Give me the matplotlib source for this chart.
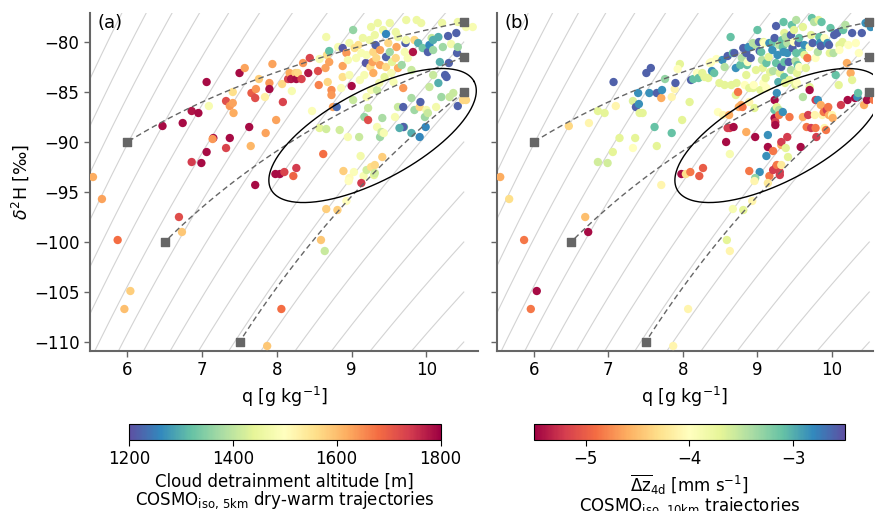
import numpy as np
import matplotlib
matplotlib.use("Agg")
import matplotlib.pyplot as plt
from matplotlib.colors import Normalize

# ---------------- data ----------------
# panel (a): q [g/kg], delta2H [permil], cloud detrainment altitude [m]
a_q = [5.54,6.47,6.74,6.86,6.95,7.06,7.09,7.32,7.37,7.41,7.42,7.15,7.14,7.37,7.32,7.06,6.86,6.99,7.41,7.50,
       7.57,7.63,7.65,7.66,7.71,7.72,7.76,7.84,7.90,7.90,7.94,8.08,8.07,7.99,7.85,8.15,8.17,8.19,8.20,8.25,
       8.26,8.28,8.33,8.35,8.42,8.44,8.47,8.56,8.55,8.57,8.62,8.66,8.67,8.70,8.68,8.70,8.65,8.57,8.66,8.73,
       8.73,8.75,8.80,8.82,8.84,8.86,8.88,8.88,8.88,8.93,8.95,8.95,8.97,8.97,9.00,9.02,9.02,9.04,9.06,9.09,
       9.10,9.11,9.13,9.15,9.17,9.17,9.19,9.20,9.20,9.22,9.22,9.24,9.25,9.26,9.26,9.28,9.29,9.29,9.31,9.32,
       9.33,9.34,9.34,9.35,9.37,9.38,9.38,9.38,9.40,9.41,9.42,9.43,9.44,9.46,9.46,9.46,9.49,9.51,9.51,9.53,
       9.54,9.58,9.56,9.59,9.59,9.60,9.62,9.62,9.62,9.67,9.69,9.69,9.70,9.71,9.72,9.73,9.73,9.75,9.80,9.80,
       9.80,9.82,9.84,9.87,9.84,9.89,9.91,9.92,9.93,9.95,9.98,9.99,10.00,10.02,10.02,10.04,10.04,10.07,10.09,10.09,
       10.09,10.13,10.16,10.16,10.18,10.20,10.21,10.22,10.25,10.27,10.29,10.30,10.31,10.33,10.36,10.40,10.41,10.42,10.42,10.49,
       10.53,10.53,10.62,10.42,9.69,9.64,9.91,
       5.66,5.87,6.04,5.96,6.69,6.73,7.71,7.98,8.04,8.10,8.26,8.22,8.89,9.03,8.97,8.96,9.12,9.16,9.20,9.26,
       9.31,9.30,9.31,9.13,9.41,8.93,8.66,8.81,8.59,8.64,8.06,7.87]
a_d = [-93.5,-88.4,-88.1,-86.9,-87.1,-84.0,-86.4,-85.9,-86.4,-86.1,-87.1,-89.6,-89.7,-89.6,-90.6,-91.0,-92.0,-92.1,-85.0,-83.1,
       -82.6,-88.5,-90.4,-85.1,-85.6,-84.7,-83.7,-85.5,-84.1,-84.7,-82.2,-86.0,-84.2,-87.8,-89.1,-83.7,-83.1,-83.7,-84.9,-83.1,
       -83.7,-83.1,-83.7,-82.1,-83.1,-81.6,-86.9,-84.3,-82.9,-81.7,-91.2,-79.5,-81.3,-80.9,-84.0,-82.0,-82.6,-88.6,-88.7,-84.8,
       -85.3,-86.5,-86.5,-80.5,-88.8,-84.6,-80.6,-83.5,-82.4,-81.1,-81.8,-89.5,-80.1,-83.3,-84.4,-78.8,-85.8,-80.6,-81.6,-80.3,
       -89.5,-83.8,-81.1,-79.6,-83.3,-87.5,-82.1,-81.3,-85.5,-86.6,-87.8,-79.8,-82.5,-78.5,-84.8,-82.0,-81.0,-83.1,-79.3,-80.3,
       -81.6,-84.8,-88.5,-78.1,-84.1,-82.3,-80.8,-89.5,-89.0,-87.6,-78.8,-89.1,-83.5,-79.2,-81.5,-82.5,-80.1,-78.1,-81.0,-83.1,
       -82.0,-87.5,-84.0,-81.6,-79.0,-80.5,-79.5,-86.5,-82.6,-82.3,-86.5,-84.6,-88.5,-81.0,-80.1,-77.8,-79.8,-81.6,-85.6,-89.1,
       -82.8,-81.0,-86.8,-77.8,-79.8,-80.1,-86.5,-86.0,-78.1,-80.6,-87.5,-88.5,-86.8,-81.0,-87.1,-84.5,-80.3,-79.6,-79.8,-83.3,
       -80.8,-86.5,-79.5,-84.1,-82.0,-85.5,-78.1,-80.5,-83.3,-83.5,-79.4,-82.1,-85.5,-80.2,-85.1,-79.1,-81.1,-80.5,-86.4,-85.8,
       -85.8,-78.5,-78.5,-78.0,-88.5,-88.6,-89.5,
       -95.7,-99.8,-104.9,-106.7,-97.5,-99.0,-94.3,-93.2,-93.2,-93.0,-92.6,-93.4,-92.9,-93.0,-93.6,-93.9,-91.4,-93.4,-92.8,-92.5,
       -92.3,-93.3,-93.1,-94.1,-91.5,-95.9,-96.7,-96.8,-99.8,-100.9,-106.7,-110.4]
a_c = [1620,1790,1790,1780,1790,1790,1480,1720,1640,1630,1620,1790,1640,1790,1730,1790,1740,1790,1560,1790,
       1630,1790,1610,1700,1720,1640,1580,1530,1640,1790,1630,1730,1570,1630,1630,1730,1620,1780,1480,1580,
       1790,1570,1730,1640,1780,1730,1490,1660,1720,1480,1680,1470,1560,1320,1570,1630,1630,1440,1420,1650,
       1640,1630,1230,1480,1420,1490,1210,1560,1630,1640,1480,1480,1470,1480,1790,1360,1410,1560,1480,1560,
       1410,1480,1480,1460,1480,1360,1210,1480,1480,1410,1720,1460,1560,1460,1480,1630,1570,1620,1460,1220,
       1570,1410,1480,1460,1470,1630,1630,1370,1410,1380,1460,1480,1440,1260,1220,1570,1570,1460,1370,1480,
       1440,1480,1480,1570,1460,1630,1460,1410,1620,1370,1220,1640,1320,1480,1220,1460,1470,1480,1380,1300,
       1410,1780,1370,1460,1570,1300,1570,1220,1460,1330,1370,1260,1470,1220,1410,1410,1260,1410,1300,1410,
       1370,1470,1300,1300,1300,1370,1460,1370,1220,1220,1220,1220,1410,1470,1410,1220,1220,1370,1220,1570,
       1570,1480,1480,1460,1220,1300,1260,
       1630,1680,1580,1600,1720,1590,1790,1790,1790,1730,1740,1690,1580,1490,1510,1500,1470,1480,1420,1560,
       1570,1440,1420,1740,1580,1500,1580,1580,1590,1410,1680,1590]

# panel (b): q [g/kg], delta2H [permil], mean vertical velocity [mm/s]
b_q = [5.55,6.47,6.74,6.86,6.95,7.07,7.10,7.33,7.37,7.41,7.40,7.42,7.46,7.51,7.57,7.55,7.65,7.71,7.72,7.76,
       7.85,7.89,7.90,7.85,7.62,7.65,7.33,7.15,7.36,7.06,6.86,6.99,7.96,7.93,7.99,8.09,8.11,8.14,8.19,8.21,
       8.26,8.29,8.34,8.36,8.39,8.38,8.42,8.45,8.47,8.49,8.53,8.56,8.56,8.54,8.58,8.60,8.60,8.62,8.63,8.64,
       8.65,8.67,8.69,8.68,8.71,8.71,8.72,8.74,8.75,8.77,8.78,8.79,8.80,8.81,8.83,8.85,8.85,8.85,8.86,8.87,
       8.88,8.89,8.89,8.91,8.91,8.94,8.94,8.95,8.96,8.97,8.98,8.98,9.00,9.02,9.03,9.04,9.05,9.06,9.07,9.08,
       9.08,9.09,9.11,9.12,9.12,9.14,9.14,9.15,9.16,9.17,9.20,9.21,9.21,9.23,9.23,9.23,9.23,9.24,9.24,9.25,
       9.25,9.26,9.26,9.27,9.28,9.29,9.29,9.29,9.30,9.32,9.32,9.32,9.33,9.34,9.34,9.35,9.35,9.36,9.36,9.36,
       9.37,9.38,9.38,9.40,9.40,9.40,9.42,9.43,9.43,9.45,9.45,9.46,9.47,9.49,9.49,9.51,9.51,9.52,9.52,9.53,
       9.53,9.54,9.55,9.56,9.56,9.58,9.60,9.61,9.61,9.61,9.63,9.63,9.65,9.66,9.67,9.68,9.70,9.70,9.70,9.72,
       9.72,9.73,9.74,9.76,9.77,9.78,9.78,9.78,9.79,9.81,9.81,9.82,9.83,9.84,9.85,9.85,9.86,9.87,9.89,9.90,
       9.90,9.92,9.93,9.94,9.95,9.96,9.96,9.97,9.98,10.00,10.01,10.02,10.03,10.05,10.07,10.09,10.10,10.10,10.12,10.14,
       10.15,10.18,10.20,10.21,10.22,10.25,10.27,10.27,10.31,10.32,10.34,10.35,10.36,10.40,10.43,10.45,10.47,10.52,10.56,
       5.67,5.87,6.04,5.96,6.69,6.73,7.71,7.98,8.04,8.10,8.27,8.22,8.63,8.89,9.03,8.97,8.96,9.12,9.16,9.21,
       9.25,9.26,9.30,9.30,9.32,9.14,9.41,9.21,8.93,8.67,8.81,8.59,8.63,8.07,7.87]
b_d = [-93.5,-88.4,-88.1,-86.9,-87.1,-84.0,-86.4,-85.9,-86.5,-86.2,-85.1,-87.1,-87.1,-83.1,-82.6,-85.1,-85.1,-85.6,-84.8,-83.7,
       -85.5,-84.7,-84.1,-89.1,-88.5,-90.4,-90.6,-89.6,-89.6,-91.0,-92.0,-92.1,-82.2,-82.7,-87.8,-86.0,-83.8,-83.7,-83.1,-83.6,
       -83.1,-83.5,-83.6,-82.1,-82.9,-82.0,-83.1,-81.7,-87.0,-84.1,-81.8,-84.3,-82.5,-87.3,-90.0,-81.4,-88.6,-87.3,-88.6,-79.5,
       -84.3,-81.1,-81.1,-88.5,-82.6,-85.3,-84.1,-85.0,-86.5,-82.3,-86.3,-81.6,-86.5,-80.6,-84.3,-81.1,-89.0,-83.3,-82.3,-82.0,
       -80.5,-86.0,-84.6,-80.5,-81.6,-80.1,-84.6,-84.3,-86.6,-89.5,-80.3,-82.8,-78.8,-80.0,-80.9,-84.8,-81.0,-81.8,-82.6,-80.0,
       -84.1,-80.1,-83.6,-84.6,-82.1,-89.3,-90.5,-81.5,-80.1,-83.0,-80.8,-80.0,-82.9,-86.8,-85.8,-87.6,-79.6,-88.0,-88.3,-78.4,
       -82.1,-85.1,-86.5,-81.3,-84.0,-80.3,-86.8,-87.3,-83.1,-82.5,-90.3,-90.0,-79.8,-80.5,-87.0,-81.0,-78.0,-79.1,-83.5,-82.0,
       -84.1,-90.6,-79.5,-89.5,-81.1,-80.1,-82.0,-83.8,-87.5,-82.8,-79.3,-78.3,-80.6,-80.0,-78.8,-81.9,-84.3,-77.8,-81.1,-83.1,
       -84.1,-82.3,-80.1,-82.5,-79.6,-90.5,-81.0,-85.5,-87.5,-78.5,-81.3,-80.3,-82.6,-88.5,-81.6,-87.3,-84.5,-80.5,-84.8,-79.3,
       -88.6,-77.6,-80.1,-78.0,-87.3,-85.8,-81.6,-88.6,-89.5,-85.8,-81.0,-77.8,-79.5,-80.1,-86.3,-80.4,-78.0,-87.3,-87.0,-88.6,
       -79.6,-88.8,-86.8,-80.1,-86.5,-87.3,-80.3,-81.1,-78.6,-87.3,-87.6,-81.1,-79.3,-83.3,-79.1,-84.3,-80.3,-80.8,-86.3,-80.0,
       -78.8,-78.3,-82.1,-85.8,-80.3,-83.1,-83.8,-79.1,-85.6,-80.1,-85.5,-85.1,-81.1,-79.1,-86.3,-78.1,-85.8,-78.5,-85.8,
       -95.7,-99.8,-104.9,-106.7,-97.5,-99.0,-94.3,-93.2,-93.2,-93.0,-92.6,-93.4,-91.2,-92.9,-93.0,-93.6,-93.9,-91.4,-93.4,-92.8,
       -92.5,-92.3,-93.0,-93.3,-92.3,-94.1,-91.5,-90.9,-95.9,-96.7,-96.8,-99.8,-100.9,-106.7,-110.4]
b_c = [-4.6,-4.35,-4.1,-3.7,-3.7,-2.6,-4.1,-3.65,-2.6,-2.85,-2.85,-3.7,-3.7,-2.6,-2.6,-2.85,-2.6,-4.6,-2.85,-3.3,
       -4.1,-4.1,-2.6,-3.1,-3.1,-3.7,-4.0,-3.7,-3.7,-3.7,-3.6,-3.6,-3.7,-4.0,-3.7,-3.7,-2.6,-3.1,-4.0,-3.1,
       -3.7,-3.7,-3.7,-4.0,-2.85,-4.0,-3.1,-4.0,-4.0,-3.7,-2.85,-3.7,-3.45,-4.1,-5.45,-2.6,-5.2,-4.6,-5.2,-3.1,
       -3.7,-3.1,-2.6,-5.45,-2.85,-3.7,-3.7,-4.85,-4.6,-3.1,-4.6,-3.45,-4.85,-2.6,-4.0,-2.6,-4.6,-3.7,-3.1,-4.0,
       -2.85,-4.1,-3.7,-2.85,-2.6,-3.45,-3.7,-4.0,-3.7,-5.45,-3.45,-3.7,-3.1,-2.6,-2.6,-3.7,-3.1,-3.45,-3.7,-3.7,
       -4.0,-4.0,-3.7,-4.0,-3.1,-2.85,-5.45,-3.7,-2.85,-3.7,-2.85,-3.1,-3.45,-3.1,-5.45,-5.45,-2.6,-5.2,-5.45,-2.6,
       -3.1,-2.85,-3.7,-2.85,-3.0,-3.45,-3.45,-4.85,-3.7,-2.6,-4.6,-5.2,-3.1,-3.1,-2.85,-2.85,-3.1,-3.7,-3.1,-3.1,
       -3.7,-3.7,-3.45,-5.2,-2.85,-3.45,-2.6,-3.7,-4.85,-3.45,-2.6,-3.1,-2.6,-4.0,-3.7,-3.45,-3.7,-3.45,-3.1,-3.7,
       -4.0,-3.1,-2.6,-4.0,-3.1,-5.45,-3.1,-3.45,-4.6,-3.7,-3.7,-2.85,-3.7,-4.85,-4.85,-5.2,-3.7,-4.0,-5.45,-3.7,
       -5.2,-3.1,-2.6,-3.45,-4.1,-5.2,-4.0,-4.85,-5.2,-2.85,-3.45,-3.7,-3.1,-2.85,-4.6,-2.6,-3.1,-4.1,-4.85,-4.1,
       -4.0,-4.85,-5.2,-2.85,-4.85,-4.6,-2.6,-3.7,-3.1,-4.1,-4.6,-3.45,-2.6,-3.1,-2.6,-3.7,-3.7,-4.0,-5.2,-3.7,
       -3.1,-3.45,-4.6,-5.45,-4.0,-4.6,-3.7,-2.6,-5.45,-4.0,-2.85,-3.1,-4.0,-2.6,-4.6,-2.85,-5.45,-2.85,-4.85,
       -4.3,-4.85,-5.45,-4.85,-4.5,-5.45,-4.1,-5.45,-4.3,-4.85,-5.0,-5.0,-3.9,-4.85,-2.85,-3.3,-4.1,-2.85,-4.85,-5.2,
       -5.2,-4.85,-5.2,-5.2,-4.2,-4.2,-3.7,-4.85,-4.1,-3.9,-3.7,-3.7,-4.1,-4.1,-4.1]

# mixing end members
dry_q = [6.0, 6.5, 7.5]
dry_d = [-90.0, -100.0, -110.0]
moist_q = [10.5, 10.5, 10.5]
moist_d = [-78.0, -81.5, -85.0]

# background Rayleigh curves: delta at q=10.5 and exponent (alpha - 1)
ray_d_at_105 = list(range(-150, -20, 5))
ray_q_ref = 10.5
ray_exp = 0.096

# ellipse centre in data units
ell_center = (9.28, -89.35)

xticks = [6, 7, 8, 9, 10]
yticks = [-80, -85, -90, -95, -100, -105, -110]

# ---------------- figure ----------------
fig = plt.figure(figsize=(8.78, 5.11), dpi=100)
axA = fig.add_axes([0.1025, 0.3131, 0.4419, 0.6620])
axB = fig.add_axes([0.5655, 0.3131, 0.4288, 0.6620])

normA = Normalize(1200, 1800)
normB = Normalize(-5.5, -2.5)
spine_col = '#666666'

def decorate(ax, xmax, label, showy):
    ax.set_xlim(5.5, xmax)
    ax.set_ylim(-110.9, -77.07)
    # Rayleigh curves
    qq = np.linspace(5.5, 10.5, 200)
    for d0 in ray_d_at_105:
        dd = (d0 + 1000.0) * (qq / ray_q_ref) ** ray_exp - 1000.0
        ax.plot(qq, dd, color='#d3d3d3', lw=0.8, zorder=1)
    # mixing lines
    for q1, d1, q2, d2 in zip(dry_q, dry_d, moist_q, moist_d):
        f = np.linspace(0, 1, 200)
        qm = f * q1 + (1 - f) * q2
        dm = (f * q1 * d1 + (1 - f) * q2 * d2) / qm
        ax.plot(qm, dm, color='#666666', lw=1.0, ls=(0, (4, 2.5)), zorder=4)
    ax.scatter(dry_q + moist_q, dry_d + moist_d, marker='s', s=40, color='#666666', zorder=5,
               clip_on=False)
    # ellipse
    t = np.linspace(0, 2 * np.pi, 300)
    a, bb, th = 115.0, 45.0, np.deg2rad(28)
    dx = a * np.cos(th) * np.cos(t) - bb * np.sin(th) * np.sin(t)
    dy = a * np.sin(th) * np.cos(t) + bb * np.cos(th) * np.sin(t)
    ax.plot(ell_center[0] + dx / 74.75, ell_center[1] + dy / 10.0, color='black', lw=1.0, zorder=6)
    ax.set_xticks(xticks)
    ax.set_yticks(yticks)
    for s in ['top', 'right']:
        ax.spines[s].set_visible(False)
    for s in ['left', 'bottom']:
        ax.spines[s].set_color(spine_col)
        ax.spines[s].set_linewidth(1.5)
    ax.tick_params(colors=spine_col, labelcolor='black', labelsize=12, length=4, width=1)
    if not showy:
        ax.tick_params(labelleft=False)
    ax.set_xlabel('q [g kg$^{-1}$]', fontsize=12.5, labelpad=4)
    ax.text(0.02, 0.997, label, transform=ax.transAxes, fontsize=13, va='top', ha='left')

decorate(axA, 10.69, '(a)', True)
decorate(axB, 10.55, '(b)', False)
axA.set_ylabel(r'$\delta^2$H [‰]', fontsize=12.5, labelpad=2)

scA = axA.scatter(a_q, a_d, c=a_c, cmap='Spectral_r', norm=normA, s=36, linewidths=0, zorder=3)
scB = axB.scatter(b_q, b_d, c=b_c, cmap='Spectral', norm=normB, s=36, linewidths=0, zorder=3)

caxA = fig.add_axes([0.1467, 0.139, 0.3551, 0.0307])
caxB = fig.add_axes([0.6077, 0.139, 0.3551, 0.0307])
cbA = fig.colorbar(scA, cax=caxA, orientation='horizontal', ticks=[1200, 1400, 1600, 1800])
cbB = fig.colorbar(scB, cax=caxB, orientation='horizontal', ticks=[-5, -4, -3])
for cb in (cbA, cbB):
    cb.ax.tick_params(labelsize=12, length=4)
    cb.outline.set_linewidth(0.8)
cbA.set_label('Cloud detrainment altitude [m]\nCOSMO$_{\\mathrm{iso,\\,5km}}$ dry-warm trajectories',
              fontsize=12, labelpad=3, linespacing=0.95)
cbB.set_label('$\\overline{\\mathrm{\\Delta z}}_{\\mathrm{4d}}$ [mm s$^{-1}$]\nCOSMO$_{\\mathrm{iso,\\,10km}}$ trajectories',
              fontsize=12, labelpad=3, linespacing=0.95)

fig.savefig('out.png', dpi=100)
